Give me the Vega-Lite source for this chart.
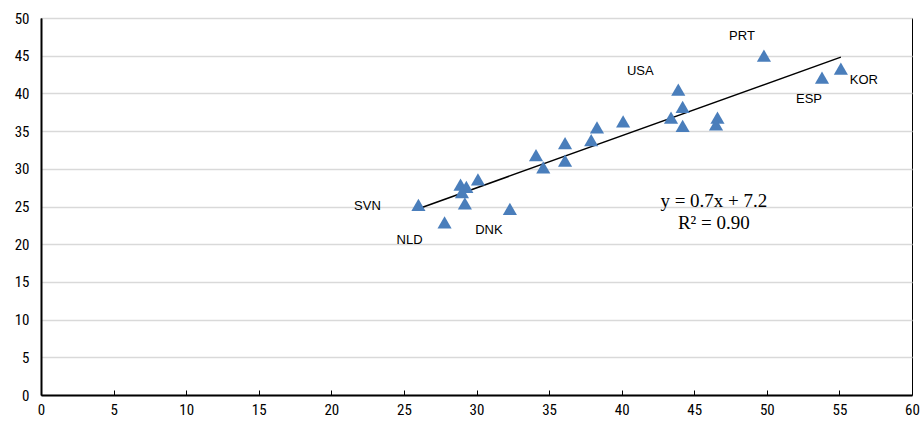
{
  "$schema": "https://vega.github.io/schema/vega-lite/v6.json",
  "autosize": "none",
  "width": 871,
  "height": 377,
  "padding": {"left": 41, "top": 18, "right": 12, "bottom": 28},
  "background": "white",
  "config": {
    "view": {"stroke": "#000000", "strokeWidth": 1},
    "font": "Liberation Sans"
  },
  "datasets": {
    "pts": [
      {"country": "SVN", "x": 26.0, "y": 25.2},
      {"country": "NLD", "x": 27.8, "y": 22.9},
      {"country": "", "x": 28.9, "y": 27.9},
      {"country": "", "x": 29.3, "y": 27.6},
      {"country": "", "x": 29.0, "y": 26.9},
      {"country": "", "x": 29.2, "y": 25.4},
      {"country": "", "x": 30.1, "y": 28.6},
      {"country": "DNK", "x": 32.3, "y": 24.7},
      {"country": "", "x": 34.1, "y": 31.8},
      {"country": "", "x": 34.6, "y": 30.2},
      {"country": "", "x": 36.1, "y": 33.4},
      {"country": "", "x": 36.1, "y": 31.1},
      {"country": "", "x": 37.9, "y": 33.8},
      {"country": "", "x": 38.3, "y": 35.5},
      {"country": "", "x": 40.1, "y": 36.3},
      {"country": "", "x": 43.4, "y": 36.8},
      {"country": "USA", "x": 43.9, "y": 40.5},
      {"country": "", "x": 44.2, "y": 38.2},
      {"country": "", "x": 44.2, "y": 35.7},
      {"country": "", "x": 46.6, "y": 36.8},
      {"country": "", "x": 46.5, "y": 35.9},
      {"country": "PRT", "x": 49.8, "y": 45.0},
      {"country": "ESP", "x": 53.8, "y": 42.1},
      {"country": "KOR", "x": 55.1, "y": 43.3}
    ]
  },
  "data": {"name": "pts"},
  "layer": [
    {
      "transform": [{"regression": "y", "on": "x", "extent": [26.0, 55.1]}],
      "mark": {"type": "line", "color": "#000000", "strokeWidth": 1.5},
      "encoding": {
        "x": {
          "field": "x", "type": "quantitative",
          "scale": {"domain": [0, 60], "nice": false, "zero": false},
          "axis": {
            "title": null, "values": [0,5,10,15,20,25,30,35,40,45,50,55,60], "tickCount": 30,
            "grid": false, "domainColor": "#000000", "domainWidth": 2,
            "tickColor": "#000000", "tickSize": -5, "tickWidth": 1,
            "labelFont": "Liberation Sans Narrow, Roboto Condensed, Liberation Sans", "labelFontSize": 15, "labelColor": "#000000",
            "labelPadding": 12, "labelFlush": false, "labelOverlap": false
          }
        },
        "y": {
          "field": "y", "type": "quantitative",
          "scale": {"domain": [0, 50], "nice": false, "zero": false},
          "axis": {
            "title": null, "values": [0,5,10,15,20,25,30,35,40,45,50], "tickCount": 30,
            "grid": true, "gridColor": "#d9d9d9", "gridWidth": 1.5,
            "domainColor": "#000000", "domainWidth": 2,
            "ticks": false, "labelOverlap": false,
            "labelFont": "Liberation Sans Narrow, Roboto Condensed, Liberation Sans", "labelFontSize": 15, "labelColor": "#000000",
            "labelPadding": 12
          }
        }
      }
    },
    {
      "mark": {"type": "point", "shape": "triangle-up", "filled": true, "color": "#4a7ebb", "opacity": 1, "size": 200},
      "encoding": {
        "x": {"field": "x", "type": "quantitative"},
        "y": {"field": "y", "type": "quantitative"}
      }
    },
    {
      "transform": [{"filter": "datum.country == 'SVN'"}],
      "mark": {"type": "text", "fontSize": 13, "color": "#000000", "align": "center", "dx": -51, "dy": 1},
      "encoding": {"x": {"field": "x", "type": "quantitative"}, "y": {"field": "y", "type": "quantitative"}, "text": {"field": "country"}}
    },
    {
      "transform": [{"filter": "datum.country == 'NLD'"}],
      "mark": {"type": "text", "fontSize": 13, "color": "#000000", "align": "center", "dx": -35, "dy": 18},
      "encoding": {"x": {"field": "x", "type": "quantitative"}, "y": {"field": "y", "type": "quantitative"}, "text": {"field": "country"}}
    },
    {
      "transform": [{"filter": "datum.country == 'DNK'"}],
      "mark": {"type": "text", "fontSize": 13, "color": "#000000", "align": "center", "dx": -21, "dy": 21},
      "encoding": {"x": {"field": "x", "type": "quantitative"}, "y": {"field": "y", "type": "quantitative"}, "text": {"field": "country"}}
    },
    {
      "transform": [{"filter": "datum.country == 'USA'"}],
      "mark": {"type": "text", "fontSize": 13, "color": "#000000", "align": "center", "dx": -38, "dy": -19},
      "encoding": {"x": {"field": "x", "type": "quantitative"}, "y": {"field": "y", "type": "quantitative"}, "text": {"field": "country"}}
    },
    {
      "transform": [{"filter": "datum.country == 'PRT'"}],
      "mark": {"type": "text", "fontSize": 13, "color": "#000000", "align": "center", "dx": -22, "dy": -20},
      "encoding": {"x": {"field": "x", "type": "quantitative"}, "y": {"field": "y", "type": "quantitative"}, "text": {"field": "country"}}
    },
    {
      "transform": [{"filter": "datum.country == 'ESP'"}],
      "mark": {"type": "text", "fontSize": 13, "color": "#000000", "align": "center", "dx": -13, "dy": 21},
      "encoding": {"x": {"field": "x", "type": "quantitative"}, "y": {"field": "y", "type": "quantitative"}, "text": {"field": "country"}}
    },
    {
      "transform": [{"filter": "datum.country == 'KOR'"}],
      "mark": {"type": "text", "fontSize": 13, "color": "#000000", "align": "center", "dx": 23, "dy": 11},
      "encoding": {"x": {"field": "x", "type": "quantitative"}, "y": {"field": "y", "type": "quantitative"}, "text": {"field": "country"}}
    },
    {
      "data": {"values": [{"label": "y = 0.7x + 7.2\nR² = 0.90"}]},
      "mark": {"type": "text", "font": "Liberation Serif", "fontSize": 19, "color": "#000000", "align": "center", "baseline": "middle", "lineBreak": "\n", "lineHeight": 22},
      "encoding": {
        "x": {"datum": 46.35, "type": "quantitative"},
        "y": {"datum": 25.75, "type": "quantitative"},
        "text": {"field": "label"}
      }
    }
  ]
}
